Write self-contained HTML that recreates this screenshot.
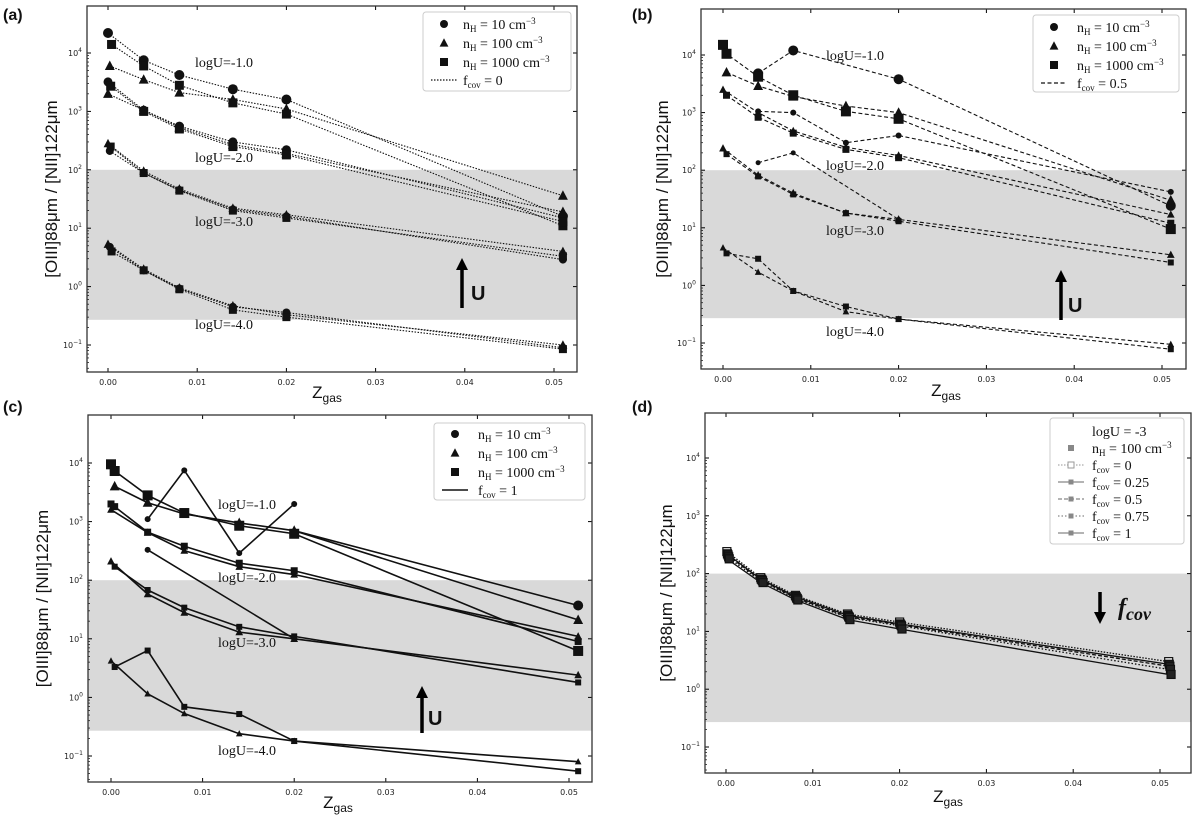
<!DOCTYPE html>
<html><head><meta charset="utf-8">
<style>
html,body{margin:0;padding:0;background:#fff;}
svg{display:block;}
.tk{font-family:"DejaVu Sans","Liberation Sans",sans-serif;font-size:8px;fill:#222;}
.ser{font-family:"Liberation Serif",serif;fill:#111;}
.sans{font-family:"Liberation Sans",sans-serif;fill:#111;}
</style></head>
<body>
<svg id="fig" width="1200" height="818" viewBox="0 0 1200 818" xmlns="http://www.w3.org/2000/svg"></svg>
<script>
// ---------- data ----------
const zTickLabels = ["0.00","0.01","0.02","0.03","0.04","0.05"];
const zTickValues = [0,0.01,0.02,0.03,0.04,0.05];
const yTickExp = [4,3,2,1,0,-1];
const bandRange = [0.27,100];

// Panel (a) fcov=0
const aZ = [
 [0,0.004,0.008,0.014,0.02,0.051],[0.0002,0.004,0.008,0.014,0.02,0.051],[0.0004,0.004,0.008,0.014,0.02,0.051],
 [0,0.004,0.008,0.014,0.02,0.051],[0,0.004,0.008,0.014,0.02,0.051],[0.0003,0.004,0.008,0.014,0.02,0.051],
 [0.0002,0.004,0.008,0.014,0.02,0.051],[0,0.004,0.008,0.014,0.02,0.051],[0.0003,0.004,0.008,0.014,0.02,0.051],
 [0.0002,0.004,0.008,0.014,0.02,0.051],[0,0.004,0.008,0.014,0.02,0.051],[0.0004,0.004,0.008,0.014,0.02,0.051]];
const aY = [
 [22000,7500,4200,2400,1600,16],[6000,3500,2100,1600,1100,36],[14000,6000,2800,1400,900,11],
 [3200,1050,560,300,220,15],[2000,1050,530,270,190,19],[2700,1000,500,250,180,13],
 [210,88,45,21,16,2.9],[280,95,47,22,17,4],[250,88,44,20,15,3.3],
 [4.8,1.9,0.93,0.45,0.36,0.09],[5.3,2,0.95,0.47,0.33,0.1],[4,1.9,0.9,0.4,0.3,0.085]];
const aM = ["c","t","s","c","t","s","c","t","s","c","t","s"];
const aSz = [10,9,9,9,9,9,8,8,8,8,8,8];

// Panel (b) fcov=0.5
const bZ = [
 [0.004,0.008,0.02,0.051],[0.0004,0.004,0.008,0.014,0.02,0.051],[0,0.0004,0.004,0.008,0.014,0.02,0.051],
 [0.004,0.008,0.014,0.02,0.051],[0,0.004,0.008,0.014,0.02,0.051],[0.0004,0.004,0.008,0.014,0.02,0.051],
 [0.004,0.008,0.02],[0,0.004,0.008,0.014,0.02,0.051],[0.0004,0.004,0.008,0.014,0.02,0.051],
 [0,0.004,0.008,0.014,0.02,0.051],[0.0004,0.004,0.008,0.014,0.02,0.051]];
const bY = [
 [4800,12000,3800,24],[5000,2900,1900,1300,1000,30],[15000,10500,4200,2000,1050,780,9.5],
 [1050,1000,300,400,42],[2500,1000,480,250,180,17],[2000,830,440,230,165,12],
 [135,200,14],[240,82,40,18,14,3.4],[190,78,38,18,13,2.5],
 [4.5,1.7,0.8,0.35,0.26,0.095],[3.6,2.9,0.8,0.43,0.26,0.078]];
const bM = ["c","t","s","c","t","s","c","t","s","t","s"];
const bSz = [10,9,10,6,7,7,5,7,6,6,6];

// Panel (c) fcov=1
const cZ = [
 [0.004,0.008,0.014,0.02],[0.02,0.051],[0.0004,0.004,0.008,0.014,0.02,0.051],[0,0.0004,0.004,0.008,0.014,0.02,0.051],
 [0.004,0.02],[0,0.004,0.008,0.014,0.02,0.051],[0,0.0004,0.004,0.008,0.014,0.02,0.051],
 [0,0.004,0.008,0.014,0.02,0.051],[0.0004,0.004,0.008,0.014,0.02,0.051],
 [0,0.004,0.008,0.014,0.02,0.051],[0.0004,0.004,0.008,0.014,0.02,0.051]];
const cY = [
 [1100,7500,290,2000],[700,37],[4000,2100,1350,950,700,21],[9500,7300,2800,1400,850,620,6.2],
 [330,10],[1600,650,320,170,125,11],[2000,1800,660,380,195,145,9],
 [210,58,28,13,10,2.4],[170,68,34,16,11,1.8],
 [4.2,1.15,0.53,0.24,0.18,0.08],[3.3,6.3,0.69,0.52,0.18,0.055]];
const cM = ["c","c","t","s","c","t","s","t","s","t","s"];
const cSz = [6,10,9,10,6,7,7,7,6,6,6];

// Panel (d) logU=-3, nH=100
const dZ = [0.0001,0.004,0.008,0.014,0.02,0.051];
const dFcov = ["0","0.25","0.5","0.75","1"];
const dY = [
 [240,85,42,20,14.5,3.0],[220,80,40,19,13.5,2.7],[210,78,38,18,13,2.5],[195,75,37,17.5,12.5,2.2],[180,70,35,16,11,1.8]];
const dDash = ["1.5,1.5","none","4,2","1.5,2","none"];

// ---------- drawing ----------
const NS="http://www.w3.org/2000/svg";
const svg=document.getElementById('fig');
function el(tag,attrs,parent){const e=document.createElementNS(NS,tag);for(const k in attrs)e.setAttribute(k,attrs[k]);(parent||svg).appendChild(e);return e;}

const panels = {
 a:{left:87,right:577,top:6,bottom:372,x0:108,x5:554,y4:53,ym1:345,letter:"(a)",lx:3,ly:20,ylabx:57,zlx:327,zly:398},
 b:{left:701,right:1186,top:9,bottom:369,x0:723,x5:1162,y4:55,ym1:343,letter:"(b)",lx:632,ly:20,ylabx:668,zlx:946,zly:396},
 c:{left:88,right:592,top:415,bottom:782,x0:111,x5:569,y4:463,ym1:756,letter:"(c)",lx:3,ly:412,ylabx:48,zlx:338,zly:808},
 d:{left:705,right:1191,top:413,bottom:773,x0:726,x5:1160,y4:458,ym1:747,letter:"(d)",lx:632,ly:412,ylabx:672,zlx:948,zly:802}
};
function xs(p,z){return p.x0+z/0.05*(p.x5-p.x0);}
function ys(p,v){return p.y4+(4-Math.log10(v))*(p.ym1-p.y4)/5;}

function marker(g,m,x,y,s,fill){
  let e;
  if(m==="c"){e=el('circle',{cx:x,cy:y,r:s/2,fill:fill},g);}
  else if(m==="t"){e=el('polygon',{points:`${x},${y-s*0.6} ${x-s*0.55},${y+s*0.45} ${x+s*0.55},${y+s*0.45}`,fill:fill},g);}
  else{e=el('rect',{x:x-s/2,y:y-s/2,width:s,height:s,fill:fill},g);}
  
  
  return e;
}

function frame(key){
  const p=panels[key];
  const g=el('g',{});
  
  
  const band=el('rect',{x:p.left,y:ys(p,bandRange[1]),width:p.right-p.left,height:ys(p,bandRange[0])-ys(p,bandRange[1]),fill:'#d9d9d9'},g);
  
  
  zTickValues.forEach((z,i)=>{
    const x=xs(p,z);
    el('line',{x1:x,y1:p.bottom,x2:x,y2:p.bottom-4,stroke:'#000','stroke-width':1},g);
    el('line',{x1:x,y1:p.top,x2:x,y2:p.top+4,stroke:'#000','stroke-width':1},g);
    const t=el('text',{x:x,y:p.bottom+13,'text-anchor':'middle',class:'tk'},g);
    t.textContent=zTickLabels[i];
    
    
  });
  yTickExp.forEach(e=>{
    const y=ys(p,Math.pow(10,e));
    el('line',{x1:p.left,y1:y,x2:p.left+4,y2:y,stroke:'#000','stroke-width':1},g);
    el('line',{x1:p.right,y1:y,x2:p.right-4,y2:y,stroke:'#000','stroke-width':1},g);
    for(let k=2;k<10;k++){const ym=ys(p,k*Math.pow(10,e-1));if(ym<p.bottom&&ym>p.top){el('line',{x1:p.left,y1:ym,x2:p.left+2,y2:ym,stroke:'#000','stroke-width':0.7},g);}}
    const t=el('text',{x:p.left-5,y:y+3,'text-anchor':'end',class:'tk'},g);
    
    
    const ts=el('tspan',{},t);ts.textContent='10';
    const sup=el('tspan',{dy:-4,'font-size':'6px'},t);sup.textContent=(e<0?'\u2212'+(-e):String(e));
  });
  const ax=el('rect',{x:p.left,y:p.top,width:p.right-p.left,height:p.bottom-p.top,fill:'none',stroke:'#333','stroke-width':1.3},g);
  
  
  const L=el('text',{x:p.lx,y:p.ly,class:'sans','font-size':'16px','font-weight':'bold'},g);
  L.textContent=p.letter;
  
  
  const yc=(p.top+p.bottom)/2;
  const yl=el('text',{x:p.ylabx,y:yc,class:'sans','font-size':'17px','text-anchor':'middle',transform:`rotate(-90 ${p.ylabx} ${yc})`},g);
  yl.textContent='[OIII]88\u03bcm / [NII]122\u03bcm';
  
  
  const zl=el('text',{x:p.zlx,y:p.zly,class:'sans','font-size':'17px','text-anchor':'middle'},g);
  
  
  const z1=el('tspan',{},zl);z1.textContent='Z';
  const z2=el('tspan',{dy:4,'font-size':'12px'},zl);z2.textContent='gas';
  return g;
}

function series(key,Z,Y,M,S,dash,width){
  const p=panels[key];
  const g=el('g',{});
  
  
  Z.forEach((zs,i)=>{
    const pts=zs.map((z,j)=>xs(p,z)+','+ys(p,Y[i][j])).join(' ');
    const pl=el('polyline',{points:pts,fill:'none',stroke:'#111','stroke-width':width,'stroke-dasharray':dash},g);
    
    
  });
  Z.forEach((zs,i)=>{zs.forEach((z,j)=>{
    if(key==='c'&&i===1&&j===0)return;
    marker(g,M[i],xs(p,z),ys(p,Y[i][j]),S[i],'#111');
  });});
}

function annot(x,y,txt){
  const t=el('text',{x:x,y:y,class:'ser','font-size':'14px'});
  t.textContent=txt;
  
  
}
function arrow(x,y1,y2,label,lx,ly,italic){
  const dir=y2<y1?-1:1;
  const g=el('g',{});
  
  
  el('line',{x1:x,y1:y1,x2:x,y2:y2-dir*10,stroke:'#000','stroke-width':3.5},g);
  el('polygon',{points:`${x},${y2} ${x-6},${y2-dir*12} ${x+6},${y2-dir*12}`,fill:'#000'},g);
  const t=el('text',{x:lx,y:ly},g);
  if(italic){t.setAttribute('class','ser');t.setAttribute('font-size','24px');t.setAttribute('font-weight','bold');t.setAttribute('font-style','italic');
    const a=el('tspan',{},t);a.textContent='f';const b=el('tspan',{dy:5,'font-size':'18px'},t);b.textContent='cov';}
  else{t.setAttribute('class','sans');t.setAttribute('font-size','20px');t.setAttribute('font-weight','bold');t.textContent=label;}
}

function legend(x,y,w,h,rows,fs){
  const g=el('g',{});
  
  
  el('rect',{x:x,y:y,width:w,height:h,rx:3,fill:'#fff',stroke:'#ccc','stroke-width':1},g);
  rows.forEach((r,i)=>{
    const cy=y+r.dy;
    const rg=el('g',{},g);
    
    
    if(r.line){el('line',{x1:x+8,y1:cy,x2:x+34,y2:cy,stroke:r.col||'#111','stroke-width':r.lw||1.2,'stroke-dasharray':r.line},rg);}
    if(r.m){marker(rg,r.m,x+21,cy,r.ms||8,r.col||'#111');}
    if(r.hollow){el('rect',{x:x+18,y:cy-3,width:6,height:6,fill:'#fff',stroke:'#999','stroke-width':1},rg);}
    const t=el('text',{x:x+r.tx,y:cy+5,class:'ser','font-size':(fs||14)+'px'},rg);
    r.parts.forEach(pt=>{const s=el('tspan',pt.a||{},t);s.textContent=pt.t;});
  });
}
function nh(val){return [{t:'n'},{t:'H',a:{dy:3,'font-size':'9px'}},{t:' = '+val+' cm',a:{dy:-3}},{t:'\u22123',a:{dy:-5,'font-size':'9px'}}];}
function fc(val){return [{t:'f'},{t:'cov',a:{dy:3,'font-size':'9px'}},{t:' = '+val,a:{dy:-3}}];}

// Panel a
frame('a');
series('a',aZ,aY,aM,aSz,'1.5,1.5',1.1);
annot(195,67,'logU=-1.0');annot(195,162,'logU=-2.0');annot(195,226,'logU=-3.0');annot(195,329,'logU=-4.0');
arrow(462,308,258,'U',471,300,false);
legend(423,12,148,79,[{m:'c',dy:12,tx:40,parts:nh('10')},{m:'t',dy:31,tx:40,parts:nh('100')},{m:'s',dy:50,tx:40,parts:nh('1000')},{line:'1.5,1.5',dy:68,tx:40,parts:fc('0')}]);

// Panel b
frame('b');
series('b',bZ,bY,bM,bSz,'4,2.5',1.1);
annot(826,60,'logU=-1.0');annot(826,170,'logU=-2.0');annot(826,235,'logU=-3.0');annot(826,336,'logU=-4.0');
arrow(1061,320,270,'U',1068,312,false);
legend(1033,15,146,77,[{m:'c',dy:12,tx:44,parts:nh('10')},{m:'t',dy:31,tx:44,parts:nh('100')},{m:'s',dy:50,tx:44,parts:nh('1000')},{line:'4,2.5',dy:68,tx:44,parts:fc('0.5')}]);

// Panel c
frame('c');
series('c',cZ,cY,cM,cSz,'none',1.6);
annot(218,509,'logU=-1.0');annot(218,582,'logU=-2.0');annot(218,647,'logU=-3.0');annot(218,755,'logU=-4.0');
arrow(422,733,686,'U',428,725,false);
legend(434,423,151,77,[{m:'c',dy:11,tx:44,parts:nh('10')},{m:'t',dy:30,tx:44,parts:nh('100')},{m:'s',dy:49,tx:44,parts:nh('1000')},{line:'none',lw:1.6,dy:67,tx:44,parts:fc('1')}]);

// Panel d
frame('d');
(function(){
  const p=panels.d;
  const g=el('g',{});
  
  
  dY.forEach((vals,i)=>{
    const pts=dZ.map((z,j)=>xs(p,z)+','+ys(p,vals[j])).join(' ');
    const pl=el('polyline',{points:pts,fill:'none',stroke:'#111','stroke-width':1.3,'stroke-dasharray':dDash[i]},g);
    
    
    dZ.forEach((z,j)=>{const r=el('rect',{x:xs(p,z)+i*0.6-4,y:ys(p,vals[j])-4,width:8,height:8,fill:i===0?'#fff':'#222',stroke:'#111','stroke-width':1.2},g);
      
      });
  });
})();
arrow(1100,592,624,'',1118,615,true);
legend(1050,418,134,126,[
 {dy:13,tx:42,parts:[{t:'logU = -3'}]},
 {m:'s',ms:6,col:'#888',dy:30,tx:42,parts:nh('100')},
 {line:'1.5,1.5',col:'#aaa',hollow:true,dy:47,tx:42,parts:fc('0')},
 {line:'none',col:'#888',m:'s',ms:5,dy:64,tx:42,parts:fc('0.25')},
 {line:'4,2',col:'#888',m:'s',ms:5,dy:81,tx:42,parts:fc('0.5')},
 {line:'1.5,2',col:'#888',m:'s',ms:5,dy:98,tx:42,parts:fc('0.75')},
 {line:'none',col:'#888',m:'s',ms:5,dy:115,tx:42,parts:fc('1')}],14);
</script>
</body></html>
